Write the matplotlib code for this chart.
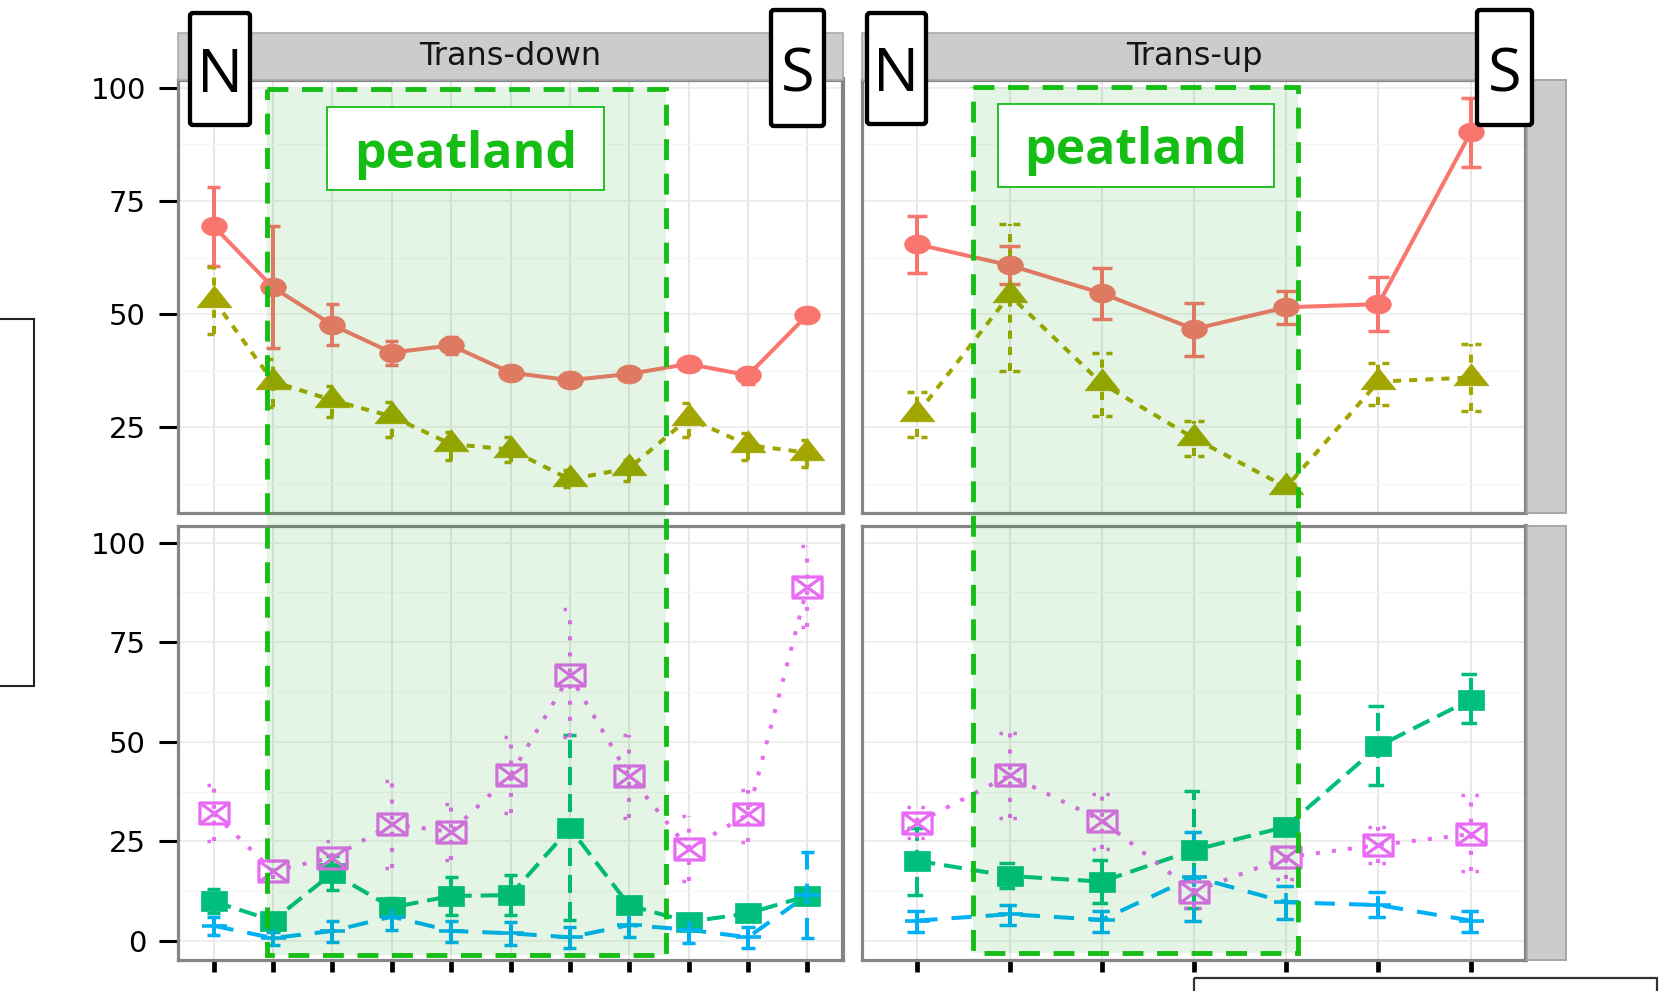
import numpy as np
import matplotlib
matplotlib.use("Agg")
import matplotlib.pyplot as plt
from matplotlib.path import Path
from matplotlib.patches import Rectangle, FancyBboxPatch
from matplotlib.transforms import Affine2D

# ---------------------------------------------------------------- data
facets = ["Trans-down", "Trans-up"]
sites_down = list(range(1, 12))
sites_up = list(range(1, 8))

# upper row (two variables)
red_down_mean = [69.4, 55.9, 47.6, 41.5, 43.1, 37.1, 35.4, 36.8, 39.0, 36.5, 49.8]
red_down_lo   = [60.7, 42.6, 43.2, 38.8, 41.2, 36.2, 34.6, 35.9, 38.2, 34.6, 49.0]
red_down_hi   = [78.1, 69.4, 52.2, 44.1, 44.9, 38.0, 36.2, 37.7, 39.8, 38.0, 50.6]

olive_down_mean = [53.2, 35.1, 31.0, 27.4, 21.3, 20.1, 13.5, 16.0, 27.0, 21.1, 19.4]
olive_down_lo   = [45.7, 29.4, 27.2, 22.8, 17.8, 17.4, 11.8, 13.2, 22.9, 17.9, 16.3]
olive_down_hi   = [60.4, 40.2, 34.1, 30.7, 24.0, 22.8, 15.6, 17.8, 30.3, 23.8, 22.2]

red_up_mean = [65.4, 60.8, 54.6, 46.7, 51.5, 52.2, 90.1]
red_up_lo   = [59.0, 56.6, 49.0, 40.7, 47.9, 46.3, 82.5]
red_up_hi   = [71.7, 65.0, 60.2, 52.5, 55.1, 58.2, 97.7]

olive_up_mean = [28.0, 54.2, 34.7, 22.6, 11.8, 35.1, 36.0]
olive_up_lo   = [22.9, 37.5, 27.4, 18.7, 11.2, 29.9, 28.7]
olive_up_hi   = [32.9, 70.0, 41.5, 26.5, 12.4, 39.3, 43.4]

# lower row (three variables)
green_down_mean = [9.9, 5.1, 17.0, 8.4, 11.3, 11.5, 28.3, 8.9, 4.8, 6.9, 11.3]
green_down_lo   = [6.9, 4.2, 12.8, 6.1, 6.5, 6.5, 5.3, 6.9, 4.0, 6.2, 10.0]
green_down_hi   = [13.0, 6.0, 21.3, 10.7, 16.1, 16.6, 51.7, 10.7, 5.6, 7.6, 12.6]

blue_down_mean = [3.8, 0.7, 2.5, 6.1, 2.5, 1.9, 0.9, 4.0, 2.8, 0.9, 11.5]
blue_down_lo   = [1.5, -1.0, -0.2, 2.8, -0.2, -1.0, -1.8, 0.9, -0.6, -1.8, 0.7]
blue_down_hi   = [6.1, 2.3, 5.1, 9.0, 5.1, 4.8, 3.6, 7.9, 4.0, 3.6, 22.4]

pink_down_mean = [32.0, 17.6, 20.9, 29.3, 27.4, 41.6, 66.7, 41.4, 23.1, 31.8, 88.9]
pink_down_lo   = [25.2, 15.5, 17.0, 18.4, 20.3, 32.0, 51.3, 30.8, 15.1, 24.9, 78.8]
pink_down_hi   = [39.1, 20.3, 25.2, 40.1, 34.4, 51.1, 83.4, 51.8, 31.4, 38.0, 99.3]

green_up_mean = [20.1, 16.3, 14.9, 22.8, 28.7, 48.9, 60.6]
green_up_lo   = [11.5, 13.4, 9.4, 8.2, 27.8, 39.1, 54.6]
green_up_hi   = [28.3, 19.5, 20.3, 37.6, 29.6, 58.9, 67.1]

blue_up_mean = [5.1, 6.7, 5.3, 16.1, 9.7, 9.0, 5.1]
blue_up_lo   = [2.2, 4.0, 2.3, 5.1, 5.4, 6.1, 2.2]
blue_up_hi   = [7.4, 9.0, 7.6, 27.3, 13.9, 12.2, 7.6]

pink_up_mean = [29.7, 41.6, 30.2, 12.4, 21.0, 24.1, 26.8]
pink_up_lo   = [25.8, 30.8, 23.2, 8.2, 15.5, 19.5, 17.6]
pink_up_hi   = [33.7, 52.3, 37.0, 16.1, 23.7, 28.7, 36.6]

top_ticks = [25, 50, 75, 100]
bottom_ticks = [0, 25, 50, 75, 100]

# ---------------------------------------------------------------- styles
COL = {"red": "#F8766D", "olive": "#A3A500", "green": "#00BF7D",
       "blue": "#00B0F6", "pink": "#E76BF3"}
LS = {"red": "solid", "olive": (0, (2, 2)), "green": (0, (4.5, 2.2)),
      "blue": (0, (5, 3.5)), "pink": (0, (1, 3))}


def ellipse(rx, ry, n=48):
    t = np.linspace(0, 2 * np.pi, n)
    return Path(np.column_stack([rx * np.cos(t), ry * np.sin(t)]), closed=True)


M_CIRCLE = ellipse(1.0, 0.74)
M_TRI = Path([(-1, -0.42), (1, -0.42), (0, 0.84), (-1, -0.42)], closed=True)
M_SQUARE = Path([(-1, -0.8), (1, -0.8), (1, 0.8), (-1, 0.8), (-1, -0.8)], closed=True)
M_PLUS = Path([(-1, 0), (1, 0), (0, -0.7), (0, 0.7)],
              [Path.MOVETO, Path.LINETO, Path.MOVETO, Path.LINETO])
M_SQX = Path([(-1, -0.72), (1, -0.72), (1, 0.72), (-1, 0.72), (-1, -0.72),
              (-1, -0.72), (1, 0.72), (-1, 0.72), (1, -0.72)],
             [Path.MOVETO, Path.LINETO, Path.LINETO, Path.LINETO, Path.CLOSEPOLY,
              Path.MOVETO, Path.LINETO, Path.MOVETO, Path.LINETO])

MARK = {
    "red": dict(marker=M_CIRCLE, ms=18.5, filled=True),
    "olive": dict(marker=M_TRI, ms=25, filled=True),
    "green": dict(marker=M_SQUARE, ms=18.5, filled=True),
    "blue": dict(marker=M_PLUS, ms=18, filled=False, mew=2.6),
    "pink": dict(marker=M_SQX, ms=21, filled=False, mew=2.3),
}

W, H = 1670, 991
fig = plt.figure(figsize=(W / 100, H / 100), dpi=100)
fig.patch.set_facecolor("white")
PX = Affine2D().scale(1 / W, -1 / H).translate(0, 1) + fig.transFigure


def axes_px(x0, y0, x1, y1):
    return fig.add_axes([x0 / W, 1 - y1 / H, (x1 - x0) / W, (y1 - y0) / H])


def draw_series(ax, x, mean, lo, hi, key, cap=0.11):
    c = COL[key]
    ax.vlines(x, lo, hi, colors=c, linestyles=[LS[key]], lw=2.9, zorder=2)
    x = np.asarray(x, dtype=float)
    ax.hlines(lo, x - cap, x + cap, colors=c, linestyles=[LS[key]], lw=2.5, zorder=2)
    ax.hlines(hi, x - cap, x + cap, colors=c, linestyles=[LS[key]], lw=2.5, zorder=2)
    ax.plot(x, mean, color=c, ls=LS[key], lw=2.9, zorder=3, dash_capstyle="butt")
    m = MARK[key]
    if m["filled"]:
        ax.plot(x, mean, ls="none", marker=m["marker"], ms=m["ms"], mfc=c, mec=c,
                mew=0.5, zorder=4)
    else:
        ax.plot(x, mean, ls="none", marker=m["marker"], ms=m["ms"], mfc="none", mec=c,
                mew=m["mew"], zorder=4)


def style_panel(ax, n, ylim, yticks, left, bottom):
    ax.set_xlim(0.4, n + 0.6)
    ax.set_ylim(*ylim)
    ax.set_xticks(range(1, n + 1))
    ax.set_yticks(yticks)
    ax.set_yticks([t + 12.5 for t in yticks if t + 12.5 < ylim[1]] +
                  ([yticks[0] - 12.5] if yticks[0] - 12.5 > ylim[0] else []), minor=True)
    ax.set_facecolor("white")
    ax.grid(which="major", axis="y", color="#EBEBEB", lw=1.1, zorder=0)
    ax.grid(which="minor", axis="y", color="#F5F5F5", lw=0.9, zorder=0)
    ax.grid(which="major", axis="x", color="#E6E6E6", lw=1.3, zorder=0)
    ax.set_axisbelow(True)
    for s in ax.spines.values():
        s.set_color("#858585")
        s.set_linewidth(2.3)
    ax.spines["right"].set_linewidth(3.0)
    ax.tick_params(which="minor", length=0)
    ax.tick_params(axis="y", which="major", direction="out", length=14 if left else 0,
                   width=2.2, pad=9, labelsize=21, labelcolor="black", color="black",
                   labelleft=left)
    ax.tick_params(axis="x", which="major", direction="out", length=8.5 if bottom else 0,
                   width=3.4, color="black", labelbottom=False)
    for lab in ax.get_yticklabels():
        lab.set_fontfamily("DejaVu Sans")


ax_tl = axes_px(178, 79.5, 843, 512.5)
ax_tr = axes_px(862, 79.5, 1526, 512.5)
ax_bl = axes_px(178, 526, 843, 960)
ax_br = axes_px(862, 526, 1526, 960)

TOP_LIM = (6.2, 101.8)
BOT_LIM = (-4.8, 104.2)

draw_series(ax_tl, sites_down, red_down_mean, red_down_lo, red_down_hi, "red")
draw_series(ax_tl, sites_down, olive_down_mean, olive_down_lo, olive_down_hi, "olive")
draw_series(ax_tr, sites_up, red_up_mean, red_up_lo, red_up_hi, "red")
draw_series(ax_tr, sites_up, olive_up_mean, olive_up_lo, olive_up_hi, "olive")

draw_series(ax_bl, sites_down, green_down_mean, green_down_lo, green_down_hi, "green")
draw_series(ax_bl, sites_down, blue_down_mean, blue_down_lo, blue_down_hi, "blue")
draw_series(ax_bl, sites_down, pink_down_mean, pink_down_lo, pink_down_hi, "pink")
draw_series(ax_br, sites_up, green_up_mean, green_up_lo, green_up_hi, "green")
draw_series(ax_br, sites_up, blue_up_mean, blue_up_lo, blue_up_hi, "blue")
draw_series(ax_br, sites_up, pink_up_mean, pink_up_lo, pink_up_hi, "pink")

style_panel(ax_tl, len(sites_down), TOP_LIM, top_ticks, left=True, bottom=False)
style_panel(ax_tr, len(sites_up), TOP_LIM, top_ticks, left=False, bottom=False)
style_panel(ax_bl, len(sites_down), BOT_LIM, bottom_ticks, left=True, bottom=True)
style_panel(ax_br, len(sites_up), BOT_LIM, bottom_ticks, left=False, bottom=True)

# facet strips
for (x0, x1), name in zip([(178, 843), (862, 1526)], facets):
    fig.add_artist(Rectangle((x0, 33), x1 - x0, 46.5, transform=PX, facecolor="#CCCCCC",
                             edgecolor="#AAAAAA", lw=1.2, zorder=1))
    fig.text((x0 + x1) / 2 / W, 1 - 56.5 / H, name, ha="center", va="center",
             fontsize=23, color="#151515", family="DejaVu Sans", zorder=2)
for y0, y1 in [(79.5, 512.5), (526, 960)]:
    fig.add_artist(Rectangle((1527, y0), 39, y1 - y0, transform=PX, facecolor="#CCCCCC",
                             edgecolor="#A6A6A6", lw=1.4, zorder=1))

# peatland zones
GREEN = "#14BE14"
for x0, y0, x1, y1 in [(267, 89, 666, 955), (973, 87, 1298, 953)]:
    fig.add_artist(Rectangle((x0, y0), x1 - x0, y1 - y0, transform=PX,
                             facecolor=(0.0, 0.63, 0.0, 0.10), edgecolor="none", zorder=5))
    fig.add_artist(Rectangle((x0, y0), x1 - x0, y1 - y0, transform=PX, facecolor="none",
                             edgecolor=GREEN, lw=3.5, ls=(0, (4.3, 2.8)), zorder=6))

for x0, y0, x1, y1, base in [(327, 107, 604, 190, 168), (998, 104, 1274, 187, 164)]:
    fig.add_artist(Rectangle((x0, y0), x1 - x0, y1 - y0, transform=PX, facecolor="white",
                             edgecolor=GREEN, lw=1.3, zorder=7))
    fig.text((x0 + x1) / 2 / W, 1 - base / H, "peatland", ha="center", va="baseline",
             fontsize=36, fontweight="bold", color=GREEN, family="Open Sans", zorder=8)

# orientation labels
for x0, y0, x1, y1, letter, base in [(190, 13, 250, 125, "N", 92), (771, 10, 824, 126, "S", 91),
                                     (867, 13, 926, 124, "N", 91), (1477, 10, 1532, 125, "S", 91)]:
    fig.add_artist(FancyBboxPatch((x0, y0), x1 - x0, y1 - y0, transform=PX,
                                  boxstyle="round,pad=0,rounding_size=3",
                                  facecolor="white", edgecolor="black", lw=3.1, zorder=9))
    fig.text((x0 + x1) / 2 / W, 1 - base / H, letter, ha="center", va="baseline",
             fontsize=44, color="black", family="Open Sans", zorder=10)

# side frames
fig.add_artist(Rectangle((-20, 319), 54, 367, transform=PX, facecolor="none",
                         edgecolor="#222222", lw=1.5, zorder=9))
fig.add_artist(Rectangle((1194, 978), 463, 40, transform=PX, facecolor="none",
                         edgecolor="#333333", lw=1.6, zorder=9))

fig.savefig("out.png", dpi=100)
